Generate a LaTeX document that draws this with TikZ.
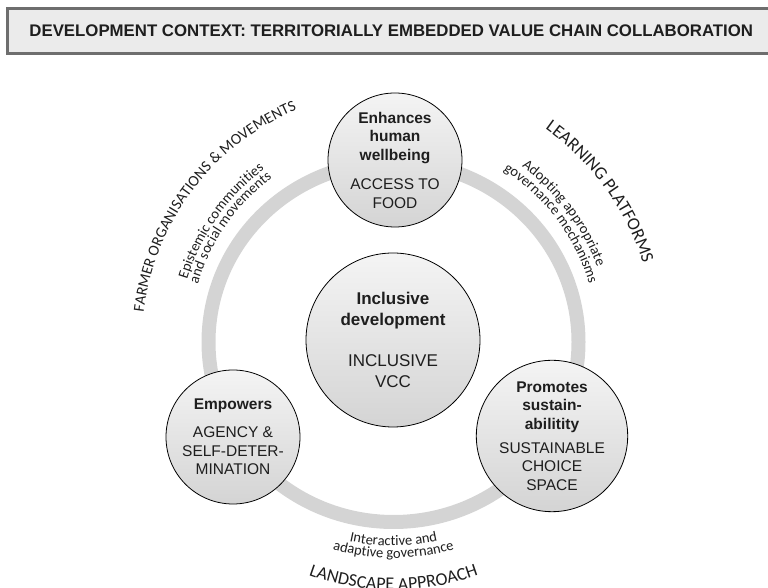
\documentclass[tikz,border=0pt]{standalone}
\usepackage{fontspec}
\setmainfont{Liberation Sans}
\newfontfamily\arcfont{Carlito}
\usetikzlibrary{calc,decorations.text}

\definecolor{ringgray}{HTML}{D4D4D4}
\definecolor{boxfill}{HTML}{EBEBEB}
\definecolor{boxline}{HTML}{6E6E6E}
\definecolor{ink}{HTML}{1E1E1E}
\definecolor{hubtop}{HTML}{F4F4F4}
\definecolor{hubbottom}{HTML}{D4D4D4}

% fonts for the curved labels
\newcommand\arcbig{\arcfont\fontsize{18}{20}\selectfont}
\newcommand\arcmid{\arcfont\fontsize{15.5}{18}\selectfont}
\newcommand\arcsmall{\arcfont\fontsize{14.5}{16}\selectfont}

\begin{document}
\begin{tikzpicture}[x=1pt,y=1pt,
  hub/.style={circle, draw=black, line width=0.8pt, top color=hubtop,
    bottom color=hubbottom, inner sep=0pt, align=center, text=ink},
  smallhub/.style={hub, minimum size=134pt, font=\fontsize{15.5}{18.5}\selectfont},
  bighub/.style={hub, minimum size=174pt, font=\fontsize{17}{21}\selectfont},
  headbox/.style={draw=boxline, line width=3pt, fill=boxfill, inner sep=0pt,
    minimum width=767.5pt, minimum height=45pt, text=ink,
    font=\bfseries\fontsize{16.8}{20}\selectfont},
  ring/.style={draw=ringgray, line width=14pt},
  arctext/.style={decorate, decoration={text along path, text align=center, text color=ink}},
]
\clip (0,0) rectangle (768,588);

% header banner
\node[headbox] (head) at (391.25,557) {DEVELOPMENT CONTEXT: TERRITORIALLY EMBEDDED VALUE CHAIN COLLABORATION};

% the grey ring that links the three outer hubs
\coordinate (ring) at (393.5,246);
\path[ring] (ring) ellipse [x radius=185pt, y radius=180pt];

% hubs
\node[bighub] (inc) at (393,248)
  {\bfseries Inclusive\\\bfseries development\\[20pt]INCLUSIVE\\VCC};
\node[smallhub] (food) at (395,428)
  {\bfseries Enhances\\\bfseries human\\\bfseries wellbeing\\[11pt]ACCESS TO\\FOOD};
\node[smallhub] (agency) at (233,151)
  {\bfseries Empowers\\[9.5pt]AGENCY \&\\SELF-DETER-\\MINATION};
\node[smallhub] (sust) at (552,152)
  {\bfseries Promotes\\\bfseries sustain-\\\bfseries abilitity\\[5.5pt]SUSTAINABLE\\CHOICE\\SPACE};

% curved labels, upper left
\path[arctext, decoration={text={|\arcmid|FARMER ORGANISATIONS {\&} MOVEMENTS}}]
  ($(ring)+(183:251.5pt)$) arc[start angle=183, end angle=103, radius=251.5pt];
\path[arctext, decoration={text={|\arcsmall|Epistemic communities}}]
  ($(ring)+(185:215.5pt)$) arc[start angle=185, end angle=105, radius=215.5pt];
\path[arctext, decoration={text={|\arcsmall|and social movements}}]
  ($(ring)+(185:204pt)$) arc[start angle=185, end angle=105, radius=204pt];

% curved labels, upper right
\path[arctext, decoration={text={|\arcbig|LEARNING PLATFORMS}}]
  ($(ring)+(76:261.5pt)$) arc[start angle=76, end angle=-4, radius=261.5pt];
\path[arctext, decoration={text={|\arcsmall|Adopting appropriate}}]
  ($(ring)+(77:217pt)$) arc[start angle=77, end angle=-3, radius=217pt];
\path[arctext, decoration={text={|\arcsmall|governance mechanisms}}]
  ($(ring)+(77:204pt)$) arc[start angle=77, end angle=-3, radius=204pt];

% curved labels, bottom
\path[arctext, decoration={text={|\arcsmall|Interactive and}}]
  ($(ring)+(230:204pt)$) arc[start angle=230, end angle=310, radius=204pt];
\path[arctext, decoration={text={|\arcsmall|adaptive governance}}]
  ($(ring)+(230:216pt)$) arc[start angle=230, end angle=310, radius=216pt];
\path[arctext, decoration={text={|\arcbig|LANDSCAPE APPROACH}}]
  ($(ring)+(230:248pt)$) arc[start angle=230, end angle=310, radius=248pt];
\end{tikzpicture}
\end{document}
